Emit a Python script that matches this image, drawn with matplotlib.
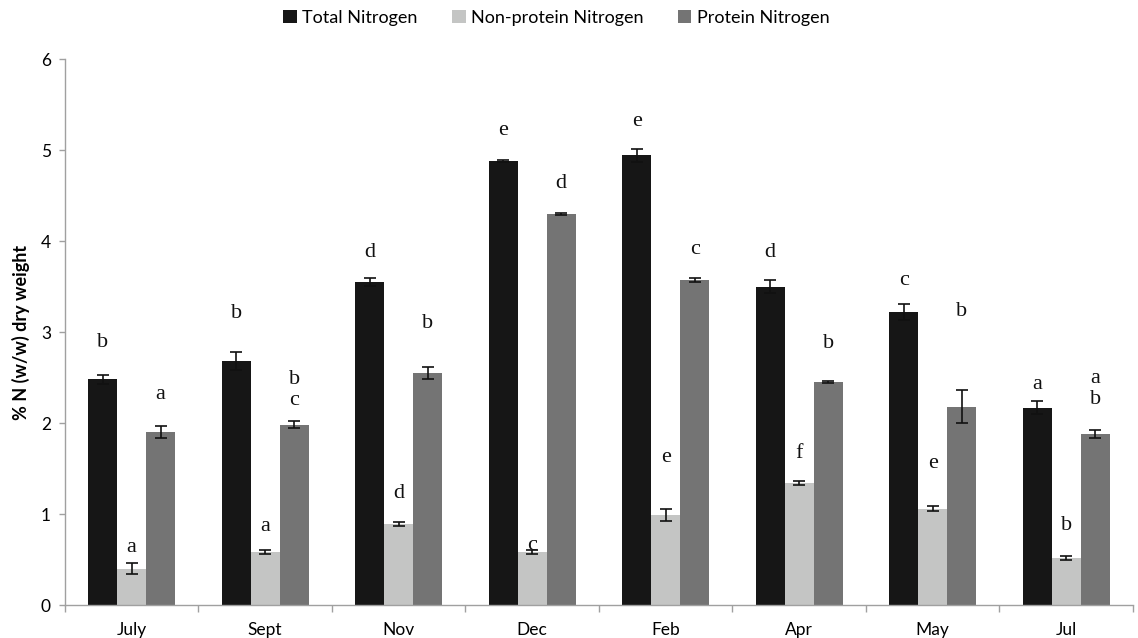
import matplotlib
matplotlib.use("Agg")
import matplotlib.pyplot as plt
import numpy as np

months = ["July", "Sept", "Nov", "Dec", "Feb", "Apr", "May", "Jul"]
series_names = ["Total Nitrogen", "Non-protein Nitrogen", "Protein Nitrogen"]
total_n = [2.48, 2.68, 3.55, 4.88, 4.94, 3.50, 3.22, 2.17]
total_err = [0.05, 0.10, 0.04, 0.01, 0.07, 0.07, 0.09, 0.07]
npn = [0.40, 0.58, 0.89, 0.58, 0.99, 1.34, 1.06, 0.52]
npn_err = [0.06, 0.02, 0.02, 0.02, 0.07, 0.02, 0.03, 0.02]
pn = [1.90, 1.98, 2.55, 4.30, 3.57, 2.45, 2.18, 1.88]
pn_err = [0.07, 0.04, 0.07, 0.01, 0.02, 0.01, 0.18, 0.04]

# significance letters (text, y-position in data units)
total_letters = [("b", 2.89), ("b", 3.20), ("d", 3.87), ("e", 5.21), ("e", 5.31), ("d", 3.87), ("c", 3.57), ("a", 2.42)]
npn_letters = [("a", 0.63), ("a", 0.86), ("d", 1.23), ("c", 0.65), ("e", 1.62), ("f", 1.67), ("e", 1.56), ("b", 0.87)]
pn_letters = [("a", 2.31), ("b\nc", 2.36), ("b", 3.09), ("d", 4.63), ("c", 3.91), ("b", 2.87), ("b", 3.23), ("a\nb", 2.37)]

colors = ["#161616", "#c4c5c4", "#747474"]
FONT = ["Lato", "DejaVu Sans"]
SERIF = ["Liberation Serif", "DejaVu Serif"]

fig = plt.figure(figsize=(11.38, 6.38), dpi=100)
ax = fig.add_axes([0.057, 0.0517, 0.9385, 0.8558])

x = np.arange(len(months))
w = 0.217
data = [(total_n, total_err, total_letters), (npn, npn_err, npn_letters), (pn, pn_err, pn_letters)]
handles = []
for i, (vals, errs, letters) in enumerate(data):
    xs = x + (i - 1) * w
    b = ax.bar(xs, vals, width=w, color=colors[i], edgecolor="none",
               label=series_names[i], zorder=2)
    handles.append(b)
    ax.errorbar(xs, vals, yerr=errs, fmt="none", ecolor="#111111",
                elinewidth=1.2, capsize=4, capthick=1.2, zorder=3)
    for xi, (txt, yy) in zip(xs, letters):
        ax.text(xi, yy, txt, ha="center", va="center", fontsize=16,
                family=SERIF, color="#111111", linespacing=1.15)

ax.set_xlim(-0.5, 7.5)
ax.set_ylim(0, 6)
ax.set_yticks(range(0, 7))
ax.set_xticks(x)
ax.set_xticklabels(months, family=FONT, fontsize=12.5)
ax.set_xticks(np.arange(-0.5, 8.0, 1.0), minor=True)
ax.tick_params(axis="x", which="major", length=0, pad=12)
ax.tick_params(axis="x", which="minor", length=5, color="#a0a0a0", width=1)
ax.tick_params(axis="y", length=4, color="#a0a0a0", width=1, labelsize=12.5, pad=6)
for lab in ax.get_yticklabels():
    lab.set_family(FONT)
for s in ["top", "right"]:
    ax.spines[s].set_visible(False)
for s in ["left", "bottom"]:
    ax.spines[s].set_color("#a0a0a0")
    ax.spines[s].set_linewidth(1)

ax.set_ylabel("% N (w/w) dry weight", family=FONT, fontsize=13,
              fontweight="bold", labelpad=8)

fig.legend(handles=handles, labels=series_names, loc="upper center",
           bbox_to_anchor=(0.489, 1.01), ncol=3, frameon=False,
           prop={"family": FONT, "size": 13}, handlelength=0.75,
           handleheight=0.75, handletextpad=0.3, columnspacing=1.9)

fig.savefig("out.png", dpi=100)
